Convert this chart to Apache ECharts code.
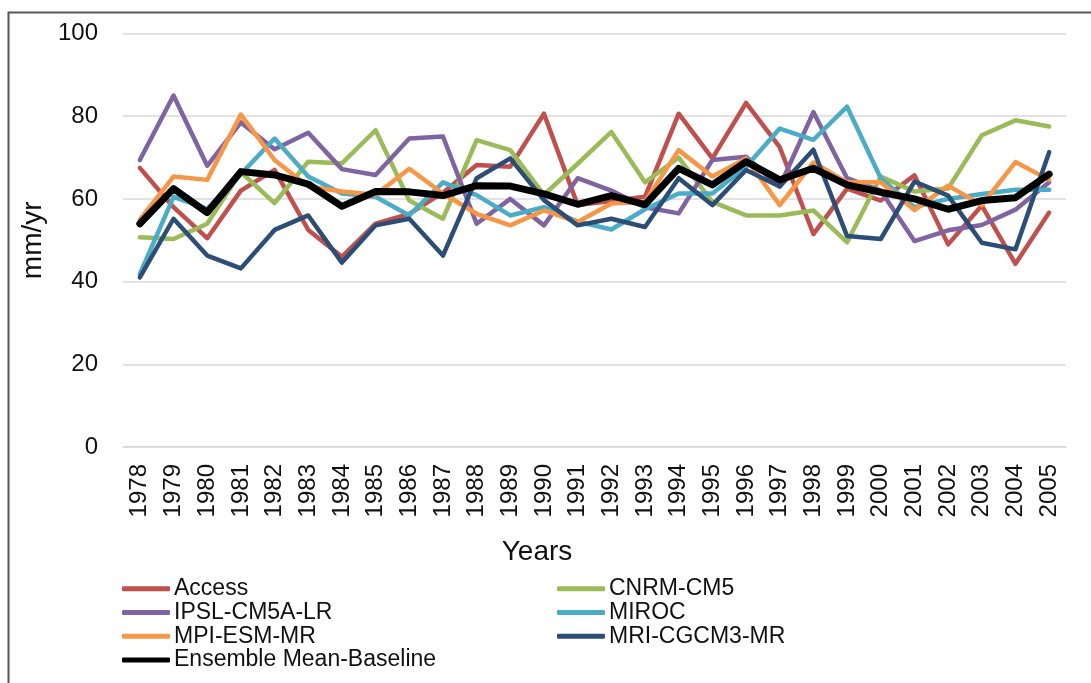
<!DOCTYPE html>
<html>
<head>
<meta charset="utf-8">
<script src="https://cdn.jsdelivr.net/npm/echarts@6/dist/echarts.min.js"></script>
<style>
  html, body { margin: 0; padding: 0; background: #fff; }
  #chart { width: 1091px; height: 683px; }
</style>
</head>
<body>
<div id="chart"></div>
<script>
// Annual values (mm/yr) per climate model, 1978–2005
const years = ['1978','1979','1980','1981','1982','1983','1984','1985','1986','1987','1988','1989','1990','1991',
               '1992','1993','1994','1995','1996','1997','1998','1999','2000','2001','2002','2003','2004','2005'];

const access   = [67.5, 58, 50.5, 62, 67, 52.5, 46, 54, 56.4, 61.5, 68.2, 67.8, 80.6, 58.5,
                  59.5, 60.5, 80.6, 69.8, 83.2, 72.5, 51.5, 62.5, 59.6, 65.7, 49, 58.4, 44.3, 56.7];
const cnrm     = [50.7, 50.3, 54, 66.5, 59, 69, 68.6, 76.6, 59.6, 55.2, 74.2, 71.8, 61, 68.5,
                  76.2, 64, 70, 59.3, 56, 56, 57.2, 49.5, 65.4, 61.8, 62.5, 75.4, 79, 77.5];
const ipsl     = [69.4, 85, 68, 78.5, 72, 76, 67.2, 65.8, 74.6, 75.1, 54, 60, 53.6, 65,
                  62, 58, 56.5, 69.4, 70.2, 63, 81, 65, 62, 49.8, 52.4, 53.7, 57.4, 64];
const miroc    = [41.8, 60.5, 57.6, 66, 74.6, 65.4, 61.3, 60.5, 56, 64, 60.9, 56, 58, 54.5,
                  52.6, 57.5, 61.3, 61.3, 67.8, 77, 74.3, 82.3, 65, 58, 60, 61.2, 62.2, 62.2];
const mpi      = [55, 65.4, 64.6, 80.4, 69.4, 63, 61.8, 61, 67.3, 61.3, 56.4, 53.6, 57.2, 54.4,
                  58.9, 59.3, 71.8, 65.4, 69.8, 58.5, 68.8, 64, 64, 57.3, 63.2, 58.5, 68.9, 64.6];
const mri      = [41, 55.2, 46.3, 43.2, 52.5, 56, 44.6, 53.6, 55.2, 46.3, 65, 69.8, 59.7, 53.6,
                  55.2, 53.2, 65, 58.5, 67, 63, 71.9, 51, 50.3, 64.2, 60.8, 49.4, 47.8, 71.3];
const ensemble = [54, 62.5, 56.7, 66.6, 65.8, 63.6, 58.2, 61.8, 61.7, 60.8, 63.2, 63.1, 61.2, 58.7,
                  60.8, 58.6, 67.4, 63.4, 69, 64.6, 67.4, 63.4, 61.6, 60, 57.5, 59.6, 60.3, 66];

const yTicks = [0, 20, 40, 60, 80, 100];

const FONT = "'Liberation Sans', Arial, sans-serif";
const TEXT = '#111';

const seriesDefs = [
  { name: 'Access',                  data: access,   color: '#C0504D', width: 4.5 },
  { name: 'CNRM-CM5',                data: cnrm,     color: '#9BBB59', width: 4.5 },
  { name: 'IPSL-CM5A-LR',            data: ipsl,     color: '#8064A2', width: 4.5 },
  { name: 'MIROC',                   data: miroc,    color: '#4BACC6', width: 4.5 },
  { name: 'MPI-ESM-MR',              data: mpi,      color: '#F79646', width: 4.5 },
  { name: 'MRI-CGCM3-MR',            data: mri,      color: '#2C4D75', width: 4.5 },
  { name: 'Ensemble Mean-Baseline',  data: ensemble, color: '#000000', width: 7 }
];

const chart = echarts.init(document.getElementById('chart'), null, { renderer: 'canvas' });

const legendCommon = {
  orient: 'vertical',
  icon: 'roundRect',
  itemWidth: 48,
  itemHeight: 5,
  itemGap: 0,
  padding: 0,
  selectedMode: false,
  textStyle: { fontFamily: FONT, fontSize: 23, lineHeight: 23.7, color: TEXT, padding: [0, 0, 0, -1] }
};

chart.setOption({
  animation: false,
  backgroundColor: '#fff',
  grid: { left: 123, right: 25, top: 33.5, bottom: 236, containLabel: false },
  xAxis: {
    type: 'category',
    data: years,
    boundaryGap: true,
    axisLine: { show: true, lineStyle: { color: '#d9d9d9', width: 1.5 } },
    axisTick: { show: false },
    axisLabel: { rotate: 90, margin: 17, fontFamily: FONT, fontSize: 24, color: TEXT, interval: 0 }
  },
  yAxis: {
    type: 'value',
    min: yTicks[0],
    max: yTicks[yTicks.length - 1],
    interval: 20,
    name: 'mm/yr',
    nameLocation: 'middle',
    nameGap: 74,
    nameTextStyle: { fontFamily: FONT, fontSize: 28, color: TEXT },
    axisLine: { show: false },
    axisTick: { show: false },
    axisLabel: { margin: 25, fontFamily: FONT, fontSize: 24, color: TEXT },
    splitLine: { show: true, lineStyle: { color: '#d9d9d9', width: 1.5 } }
  },
  legend: [
    Object.assign({ left: 122, top: 577,
      data: ['Access', 'IPSL-CM5A-LR', 'MPI-ESM-MR', 'Ensemble Mean-Baseline'] }, legendCommon),
    Object.assign({ left: 557, top: 577,
      data: ['CNRM-CM5', 'MIROC', 'MRI-CGCM3-MR'] }, legendCommon)
  ],
  graphic: [
    {
      type: 'rect',
      shape: { x: 8.5, y: 12.5, width: 1200, height: 800 },
      style: { fill: 'none', stroke: '#555', lineWidth: 2 },
      silent: true
    },
    {
      type: 'text',
      x: 537, y: 552,
      style: { text: 'Years', font: '28px ' + FONT, fill: TEXT, textAlign: 'center', textVerticalAlign: 'middle' },
      silent: true
    }
  ],
  series: seriesDefs.map(s => ({
    name: s.name,
    type: 'line',
    data: s.data,
    showSymbol: false,
    symbol: 'none',
    smooth: false,
    itemStyle: { color: s.color },
    lineStyle: { color: s.color, width: s.width, cap: 'round', join: 'round' },
    emphasis: { disabled: true }
  }))
});
</script>
</body>
</html>
